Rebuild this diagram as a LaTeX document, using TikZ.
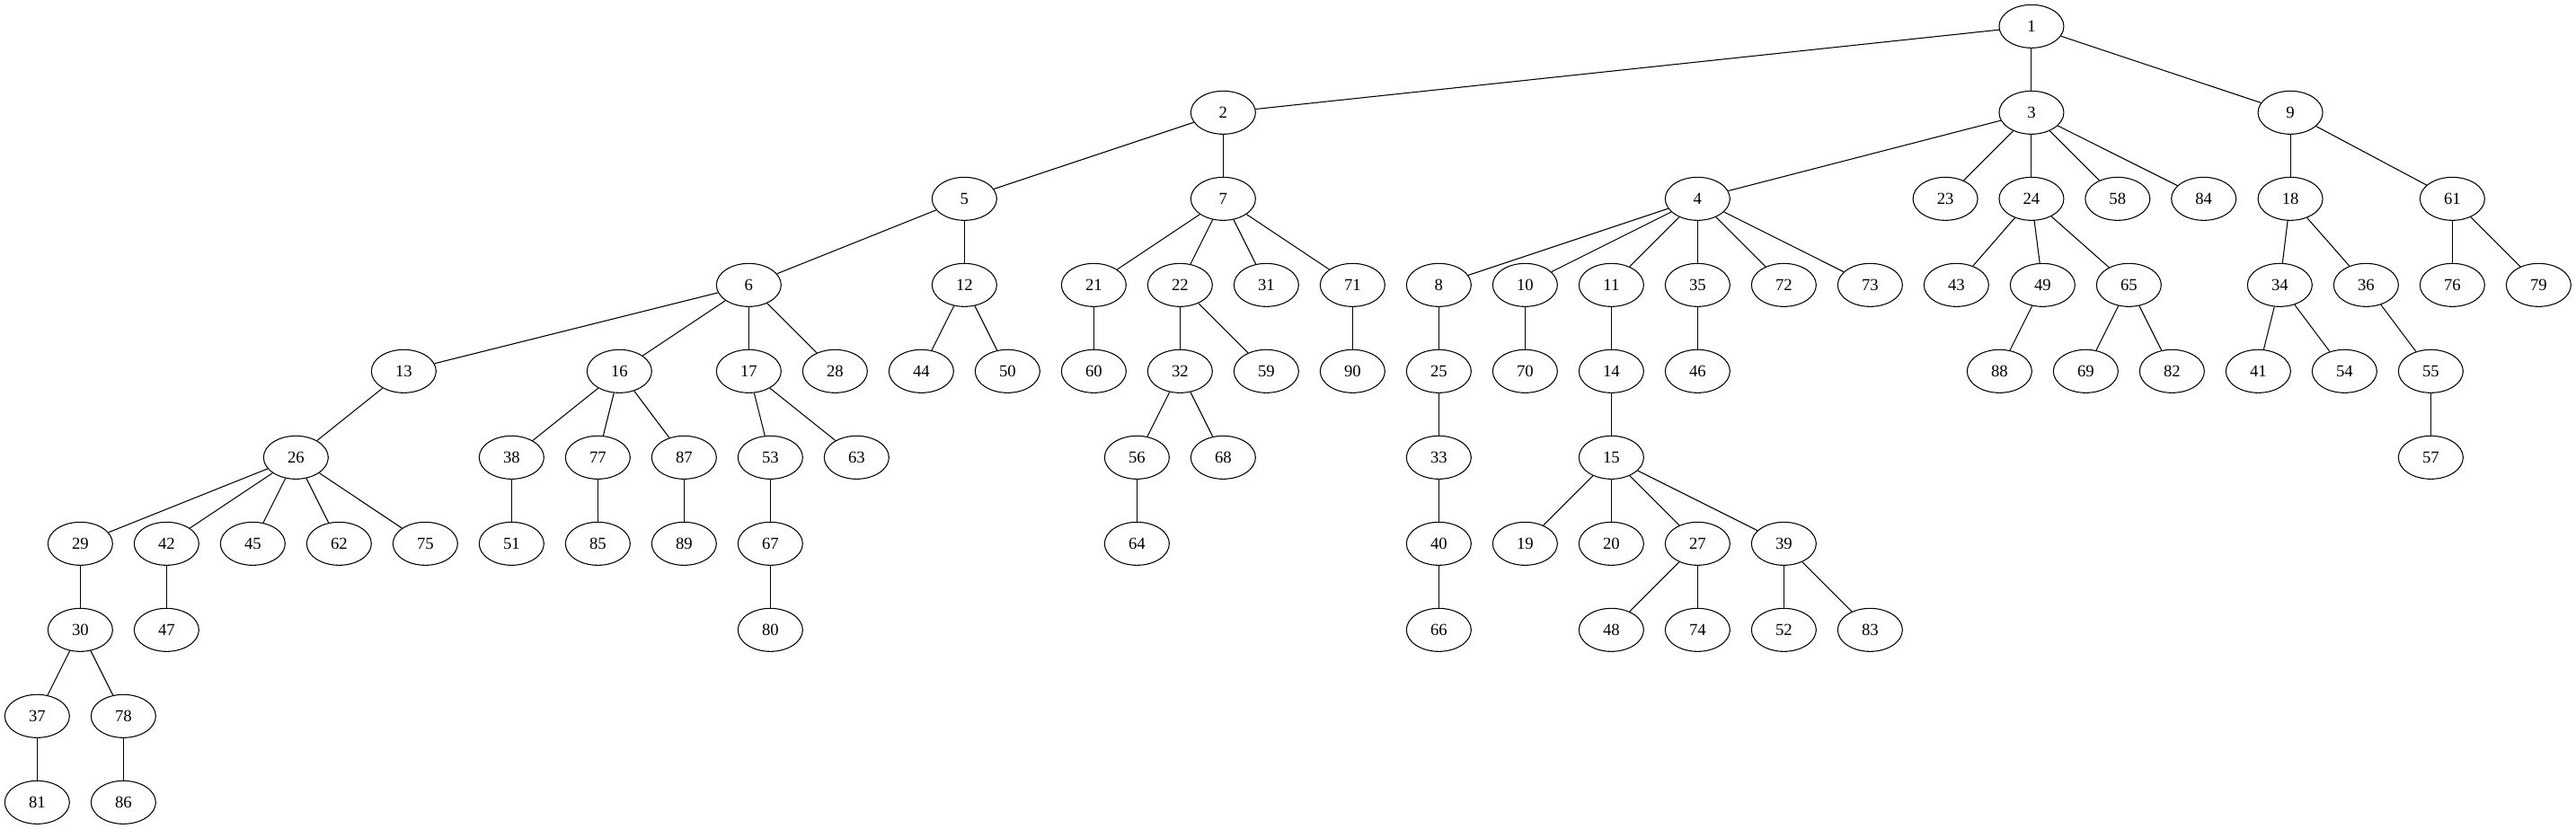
\documentclass[tikz,border=0pt]{standalone}
\usepackage{fontspec}
\setmainfont{Liberation Serif}
\usetikzlibrary{shapes.geometric}

\begin{document}
\begin{tikzpicture}[x=1pt, y=1pt,
    vert/.style={draw, line width=0.8pt, shape=ellipse, inner sep=0pt,
      minimum width=54pt, minimum height=36pt, font=\fontsize{14}{16}\selectfont},
    link/.style={line width=0.8pt}]
    \useasboundingbox (0,0) rectangle (2150.25,-692.25);

    % levels, top to bottom
    \foreach \n/\x in {1/1695.7}
        \node[vert] (n\n) at (\x,-22) {\n};
    \foreach \n/\x in {2/1021, 3/1695.7, 9/1911.8}
        \node[vert] (n\n) at (\x,-94) {\n};
    \foreach \n/\x in {5/805, 7/1021, 4/1417, 23/1623.8, 24/1695.7, 58/1767.6, 84/1839.5, 18/1911.8, 61/2047}
        \node[vert] (n\n) at (\x,-166) {\n};
    \foreach \n/\x in {6/625, 12/805, 21/913, 22/985, 31/1057, 71/1129, 8/1201, 10/1273, 11/1345, 35/1417, 72/1489, 73/1561, 43/1633, 49/1705, 65/1777, 34/1903, 36/1975, 76/2047, 79/2119}
        \node[vert] (n\n) at (\x,-238) {\n};
    \foreach \n/\x in {13/337, 16/517, 17/625, 28/697, 44/769, 50/841, 60/913, 32/985, 59/1057, 90/1129, 25/1201, 70/1273, 14/1345, 46/1417, 88/1669, 69/1741, 82/1813, 41/1885, 54/1957, 55/2029}
        \node[vert] (n\n) at (\x,-310) {\n};
    \foreach \n/\x in {26/247, 38/427, 77/499, 87/571, 53/643, 63/715, 56/949, 68/1021, 33/1201, 15/1345, 57/2029}
        \node[vert] (n\n) at (\x,-382) {\n};
    \foreach \n/\x in {29/67, 42/139, 45/211, 62/283, 75/355, 51/427, 85/499, 89/571, 67/643, 64/949, 40/1201, 19/1273, 20/1345, 27/1417, 39/1489}
        \node[vert] (n\n) at (\x,-454) {\n};
    \foreach \n/\x in {30/67, 47/139, 80/643, 66/1201, 48/1345, 74/1417, 52/1489, 83/1561}
        \node[vert] (n\n) at (\x,-526) {\n};
    \foreach \n/\x in {37/31, 78/103}
        \node[vert] (n\n) at (\x,-598) {\n};
    \foreach \n/\x in {81/31, 86/103}
        \node[vert] (n\n) at (\x,-670) {\n};

    % tree edges
    \foreach \a/\b in {1/2, 1/3, 1/9, 2/5, 2/7, 3/4, 3/23, 3/24, 3/58, 3/84, 9/18, 9/61,
        5/6, 5/12, 7/21, 7/22, 7/31, 7/71, 4/8, 4/10, 4/11, 4/35, 4/72, 4/73,
        24/43, 24/49, 24/65, 18/34, 18/36, 61/76, 61/79,
        6/13, 6/16, 6/17, 6/28, 12/44, 12/50, 21/60, 22/32, 22/59, 71/90,
        8/25, 10/70, 11/14, 35/46, 49/88, 65/69, 65/82, 34/41, 34/54, 36/55,
        13/26, 16/38, 16/77, 16/87, 17/53, 17/63, 32/56, 32/68, 25/33, 14/15, 55/57,
        26/29, 26/42, 26/45, 26/62, 26/75, 38/51, 77/85, 87/89, 53/67, 56/64,
        33/40, 15/19, 15/20, 15/27, 15/39,
        29/30, 42/47, 67/80, 40/66, 27/48, 27/74, 39/52, 39/83,
        30/37, 30/78, 37/81, 78/86}
        \draw[link] (n\a) -- (n\b);
\end{tikzpicture}
\end{document}
